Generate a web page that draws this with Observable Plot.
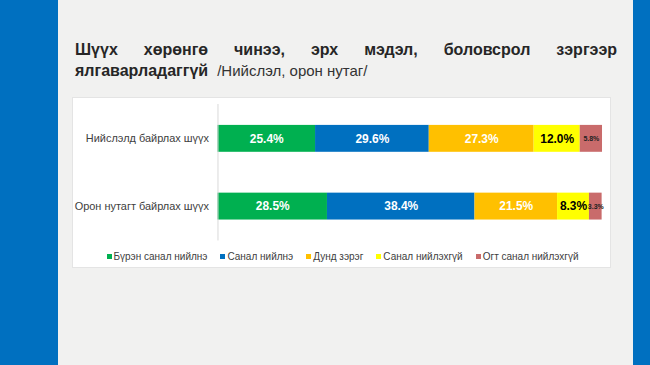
<!DOCTYPE html>
<html>
<head>
<meta charset="utf-8">
<script src="https://cdn.jsdelivr.net/npm/d3@7"></script>
<script src="https://cdn.jsdelivr.net/npm/@observablehq/plot@0.6"></script>
<style>
  html, body { margin: 0; padding: 0; }
  body { width: 650px; height: 365px; background: #f1f1f0; position: relative; overflow: hidden; font-family: "Liberation Sans", Arial, sans-serif; }
  .bl { position: absolute; left: 0; top: 0; width: 58px; height: 365px; background: #0070c0; }
  .br { position: absolute; left: 633px; top: 0; width: 17px; height: 365px; background: #0070c0; }
  .t1 { position: absolute; left: 75px; top: 39px; width: 542px; font-size: 16px; line-height: 21px; color: #262626; font-weight: bold; text-align: justify; text-align-last: justify; white-space: nowrap; }
  .t2 { position: absolute; left: 75px; top: 60px; font-size: 16px; line-height: 21px; color: #262626; white-space: nowrap; }
  .t2 b { font-weight: bold; }
  .t2 span { font-size: 15px; color: #333; margin-left: 9px; }
  .box { position: absolute; left: 72px; top: 97px; width: 539px; height: 171px; background: #fff; border: 1px solid #e4e4e4; box-sizing: border-box; }
  #chart { position: absolute; left: 0; top: 0; }
  .legend { position: absolute; left: 0; top: 153px; width: 539px; display: flex; justify-content: center; gap: 13px; font-size: 10px; color: #404040; }
  .legend .it { display: flex; align-items: center; gap: 2px; }
  .legend .sw { width: 5px; height: 5px; display: inline-block; }
</style>
</head>
<body>
<div class="bl"></div>
<div class="br"></div>
<div class="t1">Шүүх хөрөнгө чинээ, эрх мэдэл, боловсрол зэргээр</div>
<div class="t2"><b>ялгаварладаггүй</b><span>/Нийслэл, орон нутаг/</span></div>
<div class="box">
  <div id="chart"></div>
  <div class="legend" id="legend"></div>
</div>
<script>
const categories = ["Нийслэлд байрлах шүүх", "Орон нутагт байрлах шүүх"];
const series = ["Бүрэн санал нийлнэ", "Санал нийлнэ", "Дунд зэрэг", "Санал нийлэхгүй", "Огт санал нийлэхгүй"];
const capitalValues = [25.4, 29.6, 27.3, 12.0, 5.8];
const ruralValues = [28.5, 38.4, 21.5, 8.3, 3.3];
const colors = ["#00b050", "#0070c0", "#ffc000", "#ffff00", "#c96b6b"];

const data = [];
[capitalValues, ruralValues].forEach((vals, i) => {
  vals.forEach((v, j) => data.push({cat: categories[i], series: series[j], value: v}));
});
const fmt = d => d.value.toFixed(1) + "%";

const chart = Plot.plot({
  width: 539,
  height: 148,
  marginLeft: 145,
  marginRight: 8,
  marginTop: 6,
  marginBottom: 5,
  style: {fontFamily: "Liberation Sans, Arial, sans-serif", background: "transparent"},
  x: {domain: [0, 100.1], axis: null},
  y: {domain: categories, paddingInner: 0.6, paddingOuter: 0.3, label: null},
  color: {domain: series, range: colors},
  marks: [
    Plot.barX(data, Plot.stackX({x: "value", y: "cat", fill: "series"})),
    Plot.ruleX([0], {stroke: "#d9d9d9"}),
    Plot.text(data, Plot.stackX({x: "value", y: "cat", z: "series",
      text: d => (d.series === series[0] || d.series === series[1] || d.series === series[2]) ? fmt(d) : "",
      fill: "white", fontWeight: "bold", fontSize: 12})),
    Plot.text(data, Plot.stackX({x: "value", y: "cat", z: "series",
      text: d => d.series === series[3] ? fmt(d) : "",
      fill: "black", fontWeight: "bold", fontSize: 12})),
    Plot.text(data, Plot.stackX({x: "value", y: "cat", z: "series",
      text: d => d.series === series[4] ? fmt(d) : "",
      fill: "#222", fontWeight: "bold", fontSize: 7})),
    Plot.axisY({tickSize: 0, tickPadding: 9, fontSize: 11, label: null, color: "#404040"})
  ]
});
document.getElementById("chart").appendChild(chart);

const leg = document.getElementById("legend");
series.forEach((s, i) => {
  const it = document.createElement("div");
  it.className = "it";
  const sw = document.createElement("span");
  sw.className = "sw";
  sw.style.background = colors[i];
  const t = document.createElement("span");
  t.textContent = s;
  it.appendChild(sw);
  it.appendChild(t);
  leg.appendChild(it);
});
</script>
</body>
</html>
